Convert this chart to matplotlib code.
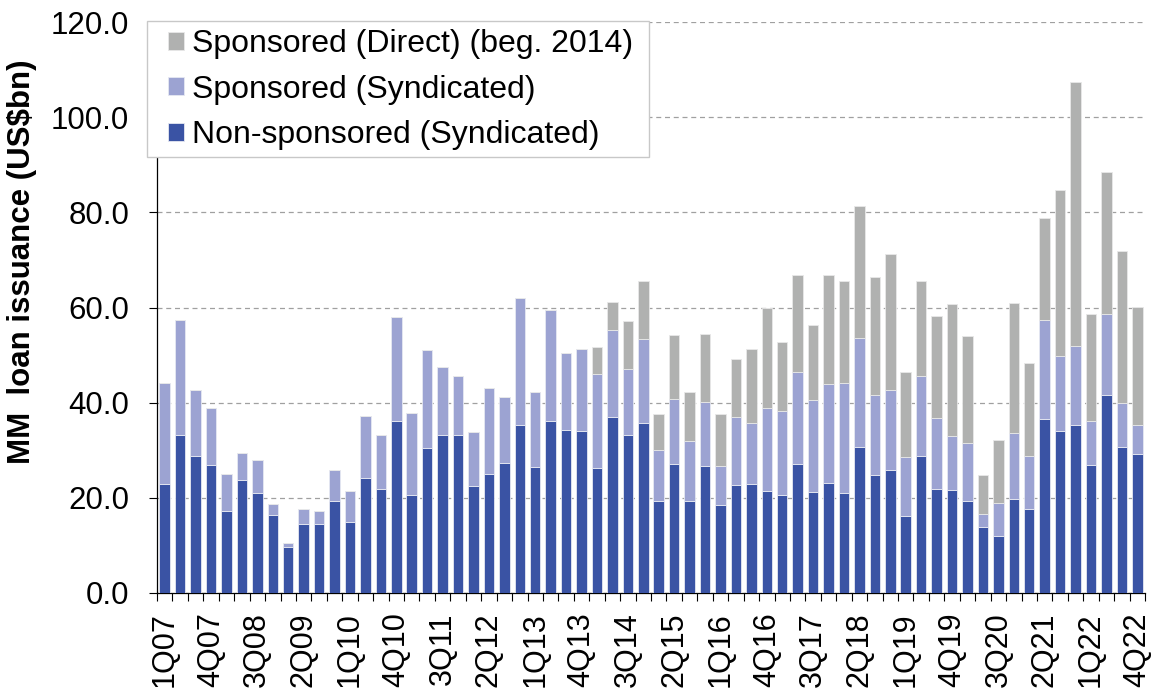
import matplotlib
matplotlib.use("Agg")
import matplotlib.pyplot as plt
from matplotlib.patches import Rectangle
import numpy as np

plt.rcParams['font.family'] = ['Liberation Sans', 'DejaVu Sans']

years = [str(y)[2:] for y in range(2007, 2023)]
quarters = [f"{q}Q{y}" for y in years for q in range(1, 5)]

non_sponsored = [23.0, 33.3, 28.8, 26.9, 17.3, 23.7, 21.0, 16.4, 9.6, 14.5, 14.5, 19.4, 14.9, 24.2, 21.8, 36.1,
                 20.7, 30.5, 33.3, 33.3, 22.5, 25.1, 27.4, 35.4, 26.4, 36.1, 34.3, 34.0, 26.3, 37.0, 33.1, 35.7,
                 19.3, 27.1, 19.3, 26.7, 18.5, 22.8, 23.0, 21.4, 20.5, 27.1, 21.3, 23.1, 21.0, 30.7, 24.7, 25.8,
                 16.1, 28.8, 21.8, 21.7, 19.4, 13.9, 11.9, 19.7, 17.7, 36.5, 34.1, 35.3, 27.0, 41.6, 30.6, 29.2]
# cumulative tops (non-sponsored + sponsored syndicated)
synd_top = [44.2, 57.3, 42.7, 38.8, 25.0, 29.5, 28.0, 18.7, 10.5, 17.6, 17.2, 25.8, 21.5, 37.1, 33.1, 58.0,
            37.8, 51.0, 47.6, 45.5, 33.9, 43.0, 41.2, 62.1, 42.2, 59.4, 50.4, 51.2, 46.0, 55.3, 47.0, 53.3,
            30.0, 40.7, 31.9, 40.2, 26.7, 36.9, 35.7, 38.9, 38.2, 46.5, 40.6, 43.9, 44.2, 53.5, 41.7, 42.6,
            28.5, 45.6, 36.7, 32.9, 31.6, 16.7, 19.0, 33.6, 28.7, 57.3, 49.9, 52.0, 36.1, 58.6, 40.0, 35.3]
# overall totals
total_top = [44.2, 57.3, 42.7, 38.8, 25.0, 29.5, 28.0, 18.7, 10.5, 17.6, 17.2, 25.8, 21.5, 37.1, 33.1, 58.0,
             37.8, 51.0, 47.6, 45.5, 33.9, 43.0, 41.2, 62.1, 42.2, 59.4, 50.4, 51.2, 51.8, 61.2, 57.2, 65.5,
             37.7, 54.3, 42.2, 54.5, 37.6, 49.1, 51.2, 59.9, 52.7, 66.8, 56.3, 66.8, 65.5, 81.3, 66.5, 71.3,
             46.5, 65.5, 58.2, 60.8, 54.1, 24.9, 32.2, 61.0, 48.4, 78.8, 84.6, 107.3, 58.7, 88.5, 71.9, 60.2]

sponsored_synd = [s - n for s, n in zip(synd_top, non_sponsored)]
sponsored_direct = [t - s for t, s in zip(total_top, synd_top)]

c_dark = '#3A53A4'
c_light = '#9CA3D2'
c_grey = '#B0B1B0'

W, H = 1156, 694
fig = plt.figure(figsize=(W / 100, H / 100), dpi=100)
ax = fig.add_axes([157/W, 1 - 593/H, (1145 - 157)/W, (593 - 22)/H])

x = np.arange(len(quarters))
w = 0.68
ax.bar(x, non_sponsored, w, color=c_dark, edgecolor='#E6E8F2', linewidth=0.6, label='Non-sponsored (Syndicated)', zorder=3)
ax.bar(x, sponsored_synd, w, bottom=non_sponsored, color=c_light, edgecolor='#E6E8F2', linewidth=0.6,
       label='Sponsored (Syndicated)', zorder=3)
ax.bar(x, sponsored_direct, w, bottom=synd_top, color=c_grey, edgecolor='#E8E8E8', linewidth=0.6,
       label='Sponsored (Direct) (beg. 2014)', zorder=3)

ax.set_xlim(-0.5, len(quarters) - 0.5)
ax.set_ylim(0, 120)
ax.set_yticks(np.arange(0, 121, 20))
ax.set_yticklabels([f"{v:.1f}" for v in np.arange(0, 121, 20)], fontsize=22.5)
ax.yaxis.grid(True, linestyle=(0, (4, 3)), color='#A0A0A0', linewidth=0.9, zorder=0)
ax.set_axisbelow(True)

ax.set_xticks(x[::3])
ax.set_xticklabels(quarters[::3], rotation=90, fontsize=22)
ax.tick_params(axis='x', which='major', length=0, pad=14)
ax.set_xticks(np.arange(-0.5, len(quarters), 1), minor=True)
ax.tick_params(axis='x', which='minor', length=6, width=0.8, direction='out', color='black')
ax.tick_params(axis='y', length=6, width=0.8, direction='out', pad=14)

for s in ['top', 'right']:
    ax.spines[s].set_visible(False)
ax.spines['left'].set_color('black')
ax.spines['left'].set_linewidth(0.9)
ax.spines['bottom'].set_color('black')
ax.spines['bottom'].set_linewidth(0.9)

ax.set_ylabel('MM  loan issuance (US$bn)', fontsize=22.5, fontweight='bold')
ax.yaxis.set_label_coords(-(157 - 37) / 988, 0.58)

# legend frame drawn as a rectangle for exact placement
frame = Rectangle((147/W, 1 - 157/H), (649 - 147)/W, (157 - 21)/H, transform=fig.transFigure,
                  facecolor='white', edgecolor='#C8C8C8', linewidth=1.0, clip_on=False, zorder=9)
ax.add_artist(frame)

handles, labels = ax.get_legend_handles_labels()
leg = ax.legend(handles[::-1], labels[::-1], loc='upper left',
                bbox_to_anchor=(168/W, 1 - 29/H), bbox_transform=fig.transFigure,
                fontsize=23, frameon=False,
                handlelength=0.5, handleheight=0.5, handletextpad=0.25, labelspacing=0.49,
                borderpad=0, borderaxespad=0)
leg.set_zorder(10)

fig.savefig('out.png', dpi=100)
